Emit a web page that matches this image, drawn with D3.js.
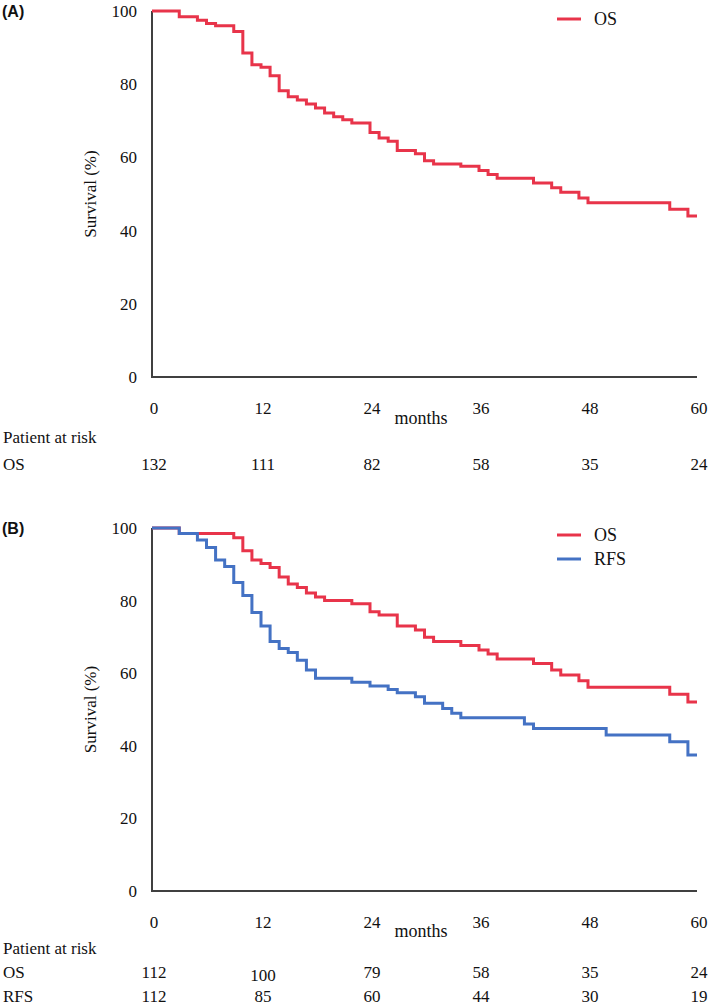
<!DOCTYPE html>
<html><head><meta charset="utf-8">
<script src="https://cdn.jsdelivr.net/npm/d3@7"></script>
<style>
body{margin:0;background:#fff}
svg{display:block}
svg text{font-family:"Liberation Serif","Times New Roman",Times,"DejaVu Serif",serif;fill:#111}
svg text.lab{font-family:"Liberation Sans",Arial,"DejaVu Sans",sans-serif;font-weight:bold}
</style>
</head><body>
<svg id="c" width="709" height="1006"></svg>
<script>
// ---- data ----
const xTicks = [0, 12, 24, 36, 48, 60];
const yTicks = [0, 20, 40, 60, 80, 100];
// Panel A: OS step curve (month, survival %)
const osA_months = [0, 3, 5, 6, 7, 9, 10, 11, 12, 13, 14, 15, 16, 17, 18, 19, 20, 21, 22, 24, 25, 26, 27, 29, 30, 31, 34, 36, 37, 38, 42, 44, 45, 47, 48, 57, 59, 60];
const osA_surv   = [100, 98.4, 97.5, 96.6, 96.0, 94.4, 88.5, 85.3, 84.6, 82.3, 78.2, 76.6, 75.7, 74.6, 73.5, 72.1, 71.1, 70.3, 69.4, 66.8, 65.3, 64.4, 61.9, 61.0, 59.1, 58.2, 57.6, 56.4, 55.3, 54.3, 53.0, 51.7, 50.5, 48.9, 47.6, 45.8, 44.0, 44.0];
const riskA_OS = [132, 111, 82, 58, 35, 24];
// Panel B: OS and RFS
const osB_months = [0, 3, 9, 10, 11, 12, 13, 14, 15, 16, 17, 18, 19, 22, 24, 25, 27, 29, 30, 31, 34, 36, 37, 38, 42, 44, 45, 47, 48, 57, 59, 60];
const osB_surv   = [100, 98.5, 97.3, 93.7, 91.2, 90.2, 89.1, 86.5, 84.6, 83.6, 82.1, 81.0, 80.0, 79.1, 76.9, 76.0, 73.0, 71.9, 69.9, 68.7, 67.6, 66.4, 65.3, 63.9, 62.7, 60.9, 59.5, 57.9, 56.1, 54.2, 52.1, 52.1];
const rfsB_months = [0, 3, 5, 6, 7, 8, 9, 10, 11, 12, 13, 14, 15, 16, 17, 18, 22, 24, 26, 27, 29, 30, 32, 33, 34, 41, 42, 50, 57, 59, 60];
const rfsB_surv   = [100, 98.5, 96.7, 94.6, 91.2, 89.4, 85.0, 81.4, 76.7, 73.0, 68.7, 66.8, 65.7, 63.6, 60.9, 58.6, 57.5, 56.5, 55.5, 54.6, 53.5, 51.7, 50.3, 49.0, 47.7, 46.0, 44.8, 43.0, 41.1, 37.5, 37.5];
const riskB_OS  = [112, 100, 79, 58, 35, 24];
const riskB_RFS = [112, 85, 60, 44, 30, 19];

const RED = "#e8344a", BLUE = "#4472c4", AXIS = "#404040";
const svg = d3.select("#c");

function zip(ms, vs){ return ms.map((m,i)=>({m, v: vs[i]})); }

function panel(cfg){
  const g = svg.append("g");
  const x = d3.scaleLinear().domain([0,60]).range([152,697]);
  const y = d3.scaleLinear().domain([0,100]).range([cfg.bottom, cfg.top]);
  g.append("text").attr("class","lab").attr("x",2).attr("y",cfg.top+6).attr("font-size",16).text(cfg.label);
  g.selectAll(".yt").data(yTicks).join("text")
    .attr("x",137).attr("y",d=>y(d)+6).attr("text-anchor","end")
    .attr("font-size",17).text(d=>d);
  g.selectAll(".xt").data(xTicks).join("text")
    .attr("x",d=>x(d)+2).attr("y",cfg.bottom+37).attr("text-anchor","middle")
    .attr("font-size",17).text(d=>d);
  g.append("path").attr("d",`M${x(0)},${y(100)}V${y(0)}H${x(60)}`)
    .attr("fill","none").attr("stroke",AXIS).attr("stroke-width",2);
  g.append("text").attr("transform",`translate(96,${(cfg.top+cfg.bottom)/2}) rotate(-90)`)
    .attr("text-anchor","middle").attr("font-size",17).text("Survival (%)");
  g.append("text").attr("x",421).attr("y",cfg.monthsY).attr("text-anchor","middle")
    .attr("font-size",18).text("months");
  const line = d3.line().x(d=>x(d.m)).y(d=>y(d.v)).curve(d3.curveStepAfter);
  cfg.series.forEach(s=>{
    g.append("path").datum(zip(s.months,s.surv)).attr("d",line)
      .attr("fill","none").attr("stroke",s.color).attr("stroke-width",3);
  });
  cfg.series.forEach((s,i)=>{
    const ly = cfg.legendY + i*24;
    g.append("line").attr("x1",557).attr("x2",581).attr("y1",ly).attr("y2",ly)
      .attr("stroke",s.color).attr("stroke-width",3);
    g.append("text").attr("x",594).attr("y",ly+6).attr("font-size",18).text(s.name);
  });
  g.append("text").attr("x",3).attr("y",cfg.riskY).attr("font-size",17).text("Patient at risk");
  cfg.risk.forEach((r,i)=>{
    const ry = cfg.riskY + cfg.rowGap*(i+1);
    g.append("text").attr("x",3).attr("y",ry).attr("font-size",17).text(r.name);
    g.selectAll(null).data(r.values).join("text")
      .attr("x",(d,j)=>x(xTicks[j])+2).attr("y",(d,j)=>ry + (r.shift && j===1 ? 3 : 0))
      .attr("text-anchor","middle").attr("font-size",17).text(d=>d);
  });
}

panel({label:"(A)", top:11, bottom:377, monthsY:424, legendY:19, riskY:443, rowGap:27,
  series:[{name:"OS", months:osA_months, surv:osA_surv, color:RED}],
  risk:[{name:"OS", values:riskA_OS}]});

panel({label:"(B)", top:528, bottom:891, monthsY:937, legendY:535, riskY:954, rowGap:24,
  series:[{name:"OS", months:osB_months, surv:osB_surv, color:RED},
          {name:"RFS", months:rfsB_months, surv:rfsB_surv, color:BLUE}],
  risk:[{name:"OS", values:riskB_OS, shift:true},{name:"RFS", values:riskB_RFS}]});
</script>
</body></html>
